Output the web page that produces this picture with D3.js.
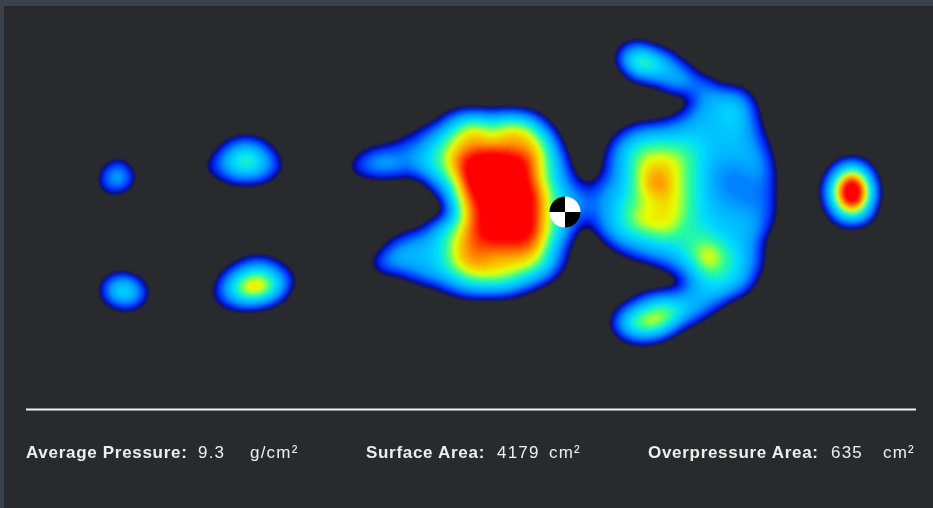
<!DOCTYPE html>
<html>
<head>
<meta charset="utf-8">
<script src="https://cdn.jsdelivr.net/npm/d3@7"></script>
<style>
  html, body { margin: 0; padding: 0; background: #282a2d; }
  svg { display: block; }
  text { font-family: "Liberation Sans", sans-serif; fill: #eeeeee; font-size: 17px; letter-spacing: 0.7px; }
  .name { font-weight: bold; }
  .num { font-size: 17px; letter-spacing: 1.2px; }
</style>
</head>
<body>
<svg width="933" height="508"></svg>
<script>
// pressure in base 36, 0 = nothing, 8 and up = red. one string per row, groups of 10 columns
const pressureRows = [
  "0000000000 0000000000 0000000000 0000000000 0000000000 0000000000 00000000",
  "0000000000 0000000000 0000000000 0000000000 0000012100 0000000000 00000000",
  "0000000000 0000000000 0000000000 0000000000 0000037642 0000000000 00000000",
  "0000000000 0000000000 0000000000 0000000000 0000003443 3000000000 00000000",
  "0000000000 0000000000 0000000000 0000000000 0000000013 3320000000 00000000",
  "0000000000 0000000000 0000000000 0000000000 0000000000 0133320000 00000000",
  "0000000000 0000000000 0000000000 0000000000 0000000000 0233431000 00000000",
  "0000000000 0000000000 0000000000 1344344310 0000000001 2333431000 00000000",
  "0000000000 0000000000 0000000012 3577577741 0000012333 3333332000 00000000",
  "0000000000 0012210000 0000001223 5666666663 0000134444 4433332100 00000000",
  "0000000000 0135531000 0001232234 5789998864 1000235666 5433333100 00000000",
  "0013000000 1235532000 0012333234 5799999864 2000235666 5432223200 00024200",
  "0035100000 0011110000 0000000002 4599999864 2101235786 5432222200 0016b600",
  "0010000000 0000000000 0000000000 2589999975 3212335676 5432222200 0028d810",
  "0000000000 0000000000 0000000000 0478999975 3322345566 5433222200 0016b600",
  "0000000000 0000000000 0000000000 0378999975 3212346666 5433332200 00034300",
  "0000000000 0000000000 0000000002 4578999975 3102345666 4443333100 00000000",
  "0000000000 0000000000 0000001233 4678888874 2000233344 4544332000 00000000",
  "0000000000 0000000000 0000013333 4677777763 1000012333 4575432000 00000000",
  "0000000000 0001221000 0000133333 4677666653 1000000012 3475432000 00000000",
  "0001000000 0023553200 0000000123 3456665431 0000000000 1344431000 00000000",
  "0036510000 0137985100 0000000000 1233332100 0000000000 1334320000 00000000",
  "0013310000 0123321000 0000000000 0000000000 0000001233 3332000000 00000000",
  "0000000000 0000000000 0000000000 0000000000 0000023566 4310000000 00000000",
  "0000000000 0000000000 0000000000 0000000000 0000147773 1000000000 00000000",
  "0000000000 0000000000 0000000000 0000000000 0000012210 0000000000 00000000",
  "0000000000 0000000000 0000000000 0000000000 0000000000 0000000000 00000000"
];

const statNames = ["Average Pressure:", "Surface Area:", "Overpressure Area:"];
const statValues = ["9.3", "4179", "635"];
const statUnits = ["g/cm²", "cm²", "cm²"];

const colorStops = [0.8, 1.3, 2.2, 3.5, 4.6, 5.6, 6.6, 7.9];
const colorValues = ["#000090", "#0030ff", "#0098ff", "#00dcff", "#30ff90", "#e8ff00", "#ffa000", "#ff0000"];
const levels = d3.range(0.8, 12, 0.1);

const svg = d3.select("svg");

svg.append("rect").attr("width", 933).attr("height", 508).attr("fill", "#3c424c");
svg.append("rect").attr("x", 4).attr("y", 6).attr("width", 929).attr("height", 502).attr("fill", "#282a2d");

const defs = svg.append("defs");
defs.append("filter").attr("id", "soft")
    .attr("x", 0).attr("y", 0).attr("width", 933).attr("height", 508)
    .attr("filterUnits", "userSpaceOnUse")
    .append("feGaussianBlur").attr("stdDeviation", 1.6);
defs.append("filter").attr("id", "soft-text")
    .append("feGaussianBlur").attr("stdDeviation", 0.35);

// each reading becomes a block of cells, then d3.blur2 rounds the blocks off
const grid = pressureRows.map(r => r.replace(/ /g, ""));
const nCols = grid[0].length;
const nRows = grid.length;
const factor = 4;
const fine = [];
grid.forEach(row => {
    for (let k = 0; k < factor; k++) {
        row.split("").forEach(ch => {
            for (let m = 0; m < factor; m++) fine.push(parseInt(ch, 36));
        });
    }
});
const fineW = nCols * factor;
const fineH = nRows * factor;
d3.blur2({ data: fine, width: fineW, height: fineH }, 2.3);

const x = d3.scaleLinear().domain([0, nCols - 1]).range([84, 888]);
const y = d3.scaleLinear().domain([0, nRows - 1]).range([36, 348]);
const color = d3.scaleLinear().domain(colorStops).range(colorValues).clamp(true);

const contours = d3.contours().size([fineW, fineH]).thresholds(levels)(fine);

const path = d3.geoPath(d3.geoTransform({
    point(px, py) {
        this.stream.point(x(px / factor - 0.5), y(py / factor - 0.5));
    }
}));

svg.append("g")
    .attr("filter", "url(#soft)")
    .selectAll("path")
    .data(contours)
    .enter()
    .append("path")
    .attr("d", path)
    .attr("fill", d => color(d.value));

// centre of pressure marker
const quadrants = [
    { start: 0, fill: "#ffffff" },
    { start: 1, fill: "#000000" },
    { start: 2, fill: "#ffffff" },
    { start: 3, fill: "#000000" }
];
const arc = d3.arc().innerRadius(0).outerRadius(15.5);
svg.append("g")
    .attr("transform", "translate(565,212)")
    .selectAll("path")
    .data(quadrants)
    .enter()
    .append("path")
    .attr("d", d => arc({ startAngle: d.start * Math.PI / 2, endAngle: (d.start + 1) * Math.PI / 2 }))
    .attr("fill", d => d.fill);

svg.append("line")
    .attr("x1", 26).attr("x2", 916)
    .attr("y1", 409.5).attr("y2", 409.5)
    .attr("stroke", "#f2f2f2")
    .attr("stroke-width", 2);

// footer stats
const footer = svg.append("g").attr("filter", "url(#soft-text)");
const nameX = [26, 366, 648];
const valueX = [198, 497, 831];
const unitX = [250, 549, 883];
statNames.forEach((name, i) => {
    footer.append("text").attr("class", "name").attr("x", nameX[i]).attr("y", 458).text(name);
    footer.append("text").attr("class", "num").attr("x", valueX[i]).attr("y", 458).text(statValues[i]);
    footer.append("text").attr("class", "num").attr("x", unitX[i]).attr("y", 458).text(statUnits[i]);
});
</script>
</body>
</html>
